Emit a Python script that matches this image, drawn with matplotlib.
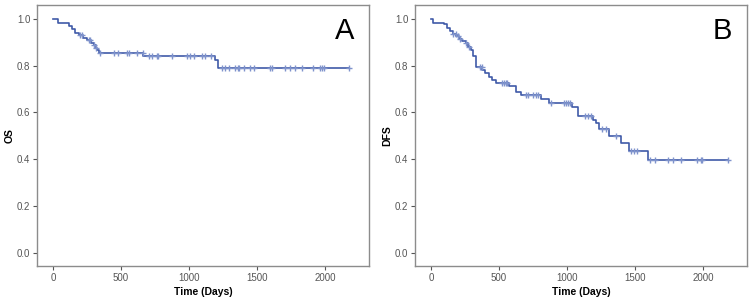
import matplotlib
matplotlib.use("Agg")
import matplotlib.pyplot as plt

plt.rcParams['font.family'] = ['Liberation Sans', 'DejaVu Sans']

# Panel A: overall survival (step times, survival after step)
os_times = [0, 37, 115, 139, 159, 190, 220, 250, 280, 300, 315, 325, 340, 665, 1192, 1216, 2178]
os_surv = [1.0, 0.98, 0.97, 0.956, 0.938, 0.928, 0.918, 0.908, 0.897, 0.886, 0.875, 0.865, 0.855, 0.84, 0.825, 0.79, 0.79]
os_cens_t = [200, 213, 261, 274, 303, 318, 347, 445, 474, 543, 560, 617, 661, 702, 727, 763, 775, 874,
             983, 1008, 1033, 1094, 1118, 1160, 1241, 1265, 1290, 1339, 1356, 1370, 1400, 1449, 1478,
             1596, 1608, 1706, 1742, 1779, 1828, 1914, 1963, 1975, 1992, 2178]

# Panel B: disease-free survival
dfs_times = [0, 15, 95, 120, 140, 162, 185, 206, 230, 255, 275, 292, 310, 329, 378, 400, 427, 450, 476,
             574, 623, 664, 806, 868, 1039, 1081, 1187, 1211, 1235, 1309, 1395, 1456, 1591, 2179]
dfs_surv = [1.0, 0.983, 0.975, 0.96, 0.948, 0.936, 0.926, 0.915, 0.905, 0.895, 0.88, 0.867, 0.84, 0.795,
            0.781, 0.767, 0.753, 0.74, 0.727, 0.713, 0.689, 0.675, 0.658, 0.642, 0.622, 0.587, 0.57,
            0.555, 0.53, 0.501, 0.469, 0.436, 0.398, 0.398]
dfs_cens_t = [162, 182, 201, 211, 255, 280, 358, 373, 524, 536, 553, 560, 698, 710, 747, 772, 784, 880,
              978, 990, 1007, 1022, 1129, 1154, 1173, 1260, 1284, 1358, 1468, 1492, 1517, 1607, 1646,
              1744, 1778, 1835, 1957, 1982, 1994, 2179]

y_ticks = [0.0, 0.2, 0.4, 0.6, 0.8, 1.0]
x_ticks = [0, 500, 1000, 1500, 2000]

line_color = '#3f5aa8'
cens_color = '#7f93cc'
frame_color = '#8c8c8c'


def surv_at(times, surv, t):
    v = surv[0]
    for ti, si in zip(times, surv):
        if ti <= t:
            v = si
    return v


fig = plt.figure(figsize=(7.53, 2.98), dpi=100)
axA = fig.add_axes([0.0487, 0.1064, 0.4413, 0.877])
axB = fig.add_axes([0.5507, 0.1064, 0.4413, 0.877])

for ax, times, surv, cens, ylab, letter in [
        (axA, os_times, os_surv, os_cens_t, 'OS', 'A'),
        (axB, dfs_times, dfs_surv, dfs_cens_t, 'DFS', 'B')]:
    ax.step(times, surv, where='post', color=line_color, lw=1.2)
    cy = [surv_at(times, surv, t) for t in cens]
    ax.plot(cens, cy, linestyle='none', marker='+', color=cens_color, ms=5, mew=1.0)
    ax.set_xlim(-120, 2322)
    ax.set_ylim(-0.055, 1.058)
    ax.set_xticks(x_ticks)
    ax.set_yticks(y_ticks)
    ax.set_yticklabels([f'{v:.1f}' for v in y_ticks])
    ax.tick_params(axis='both', direction='out', length=3, width=0.8, color='#555555',
                   labelsize=7, labelcolor='#555555', pad=1.5)
    ax.tick_params(top=False, right=False)
    for s in ax.spines.values():
        s.set_color(frame_color)
        s.set_linewidth(1.0)
    ax.set_xlabel('Time (Days)', fontsize=7.5, fontweight='bold', labelpad=3)
    ax.set_ylabel(ylab, fontsize=7.5, fontweight='bold', labelpad=2)
    ax.text(0.955, 0.9, letter, transform=ax.transAxes, fontsize=21, ha='right', va='center')

fig.savefig('out.png', dpi=100)
